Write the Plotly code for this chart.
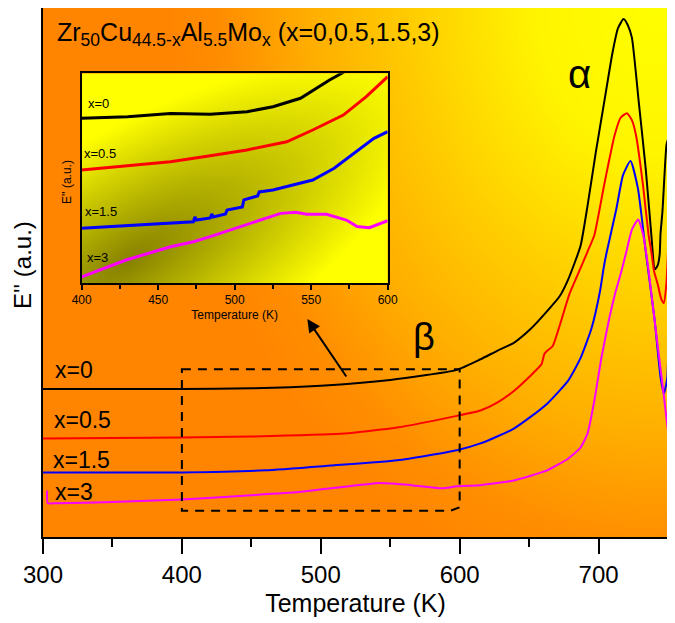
import base64
import struct
import zlib

import numpy as np
import plotly.graph_objects as go

# ---- main panel data (temperature in K, loss modulus in arbitrary units) ----
T_x0 = [300, 350, 400, 450, 500, 550, 598, 615, 627, 639, 651, 663, 672, 678, 687, 692, 698, 704,
        710, 714, 718, 721, 724, 729, 734, 738, 740.5, 742.5, 744, 744.6, 746, 748.9, 750]
E_x0 = [28.0, 28.0, 28.0, 28.1, 28.6, 29.7, 31.6, 33.6, 35.2, 36.7, 39.3, 42.7, 45.5, 48.6, 55.0, 62.5, 72.7, 82.1,
        91.5, 96.2, 97.9, 96.8, 94.4, 82.1, 69.5, 57.1, 50.6, 51.3, 53.4, 57.3, 61.5, 74.1, 75.2]

T_x05 = [300, 400, 450, 514, 555, 598, 615, 627, 639, 651, 656, 659, 661, 663, 667, 673, 679, 685,
         692, 697, 704, 711.5, 716, 720.5, 724, 727, 732, 736, 738, 740, 742.7, 745, 747, 748.8, 750]
E_x05 = [18.6, 18.8, 19.0, 19.5, 20.7, 22.9, 23.9, 25.4, 27.6, 30.5, 31.8, 32.7, 34.6, 35.2, 36.1, 40.8, 45.9, 49.6,
         53.9, 57.1, 66.5, 75.9, 79.3, 80.1, 78.8, 75.9, 66.5, 57.1, 53.9, 50.2, 47.7, 45.1, 44.2, 47.7, 53.9]

T_x15 = [300, 400, 460, 507, 555, 598, 615, 627, 639, 651, 663, 678, 687, 695, 701, 703.5, 705.5,
         712.8, 717.6, 723, 728.4, 734, 740.2, 744.7, 747.1, 749.5, 750]
E_x15 = [12.2, 12.2, 12.6, 13.5, 14.5, 16.4, 17.7, 19.0, 20.5, 22.7, 25.2, 29.5, 33.8, 39.5, 46.4, 50.6, 53.4,
         62.0, 68.4, 71.1, 65.8, 53.9, 41.4, 30.1, 27.1, 30.1, 33.3]

T_x3 = [303, 303.4, 310, 350, 400, 450, 484, 507, 543, 565, 579, 588, 598, 615, 639, 663, 678, 687,
        692, 697, 702, 708, 712, 716, 720, 724, 728.5, 732, 735, 737, 740, 746, 750]
E_x3 = [8.8, 6.4, 6.4, 6.6, 7.1, 7.9, 8.5, 9.2, 10.2, 9.8, 9.4, 9.2, 9.6, 9.8, 10.7, 12.6, 14.8, 16.9,
        19.5, 25.8, 33.8, 41.7, 46.1, 49.8, 53.9, 58.1, 60.0, 57.3, 52.4, 48.3, 41.7, 28.9, 20.1]

# ---- inset data (400-600 K zoom) ----
Ti_x0 = [400, 430, 458, 484, 508, 525, 543, 555, 562, 570, 576]
Ei_x0 = [78.6, 79.3, 80.9, 80.5, 81.7, 84.1, 88.1, 93.6, 96.8, 100.0, 103.0]

Ti_x05 = [400, 429, 458, 483, 508, 534, 551, 571, 586, 600]
Ei_x05 = [54.0, 55.9, 57.9, 60.6, 63.5, 67.4, 73.0, 80.1, 88.9, 98.4]

Ti_x15 = [400, 438, 464, 473, 474, 475, 484, 485, 486, 494, 495, 505, 506, 515, 516, 525, 538, 551,
          565, 578, 591, 600]
Ei_x15 = [26.2, 27.8, 28.6, 29.3, 31.6, 30.1, 31.1, 33.0, 31.6, 33.0, 34.9, 36.3, 39.7, 41.6, 43.5, 44.4, 46.8, 49.2,
          54.8, 61.9, 69.0, 72.2]

Ti_x3 = [400, 429, 458, 473, 484, 497, 517, 530, 540, 547, 560, 573, 580, 588, 600]
Ei_x3 = [3.1, 11.1, 17.4, 19.8, 22.2, 25.4, 30.1, 33.3, 33.8, 32.9, 32.9, 30.1, 27.0, 26.5, 29.8]

labels = ["x=0", "x=0.5", "x=1.5", "x=3"]
colors = ["#000000", "#ff0000", "#0000ff", "#ff00ff"]

FONT = "Arial, Liberation Sans, sans-serif"
# the page puts the figure 8px in from the window corner, so size it to end at the window edge
OFF = 8
W, H = 675 - OFF, 623 - OFF
ML, MR, MT, MB = 35, 7, 0, 86
PW, PH = W - ML - MR, H - MT - MB


def px(x):   # window pixel -> paper x
    return (x - OFF - ML) / PW


def py(y):   # window pixel -> paper y
    return (H - MB - (y - OFF)) / PH


def png_uri(rgb):
    # tiny png writer so the gradient backgrounds can be layout images
    h, w, _ = rgb.shape
    raw = b"".join(b"\x00" + rgb[j].tobytes() for j in range(h))

    def chunk(tag, data):
        return struct.pack(">I", len(data)) + tag + data + struct.pack(">I", zlib.crc32(tag + data) & 0xffffffff)

    png = b"\x89PNG\r\n\x1a\n" + chunk(b"IHDR", struct.pack(">IIBBBBB", w, h, 8, 2, 0, 0, 0)) \
        + chunk(b"IDAT", zlib.compress(raw, 9)) + chunk(b"IEND", b"")
    return "data:image/png;base64," + base64.b64encode(png).decode()


# main background: orange with a yellow glow from the top right corner
gw, gh = 250, 213
u, v = np.meshgrid(np.linspace(0, 1, gw), np.linspace(0, 1, gh))
d = np.sqrt(((660 - (43 + u * 625)) / 500) ** 2 + ((5 + v * 532) / 620) ** 2)
g = np.interp(d, [0, 0.25, 0.48, 0.7, 0.88, 1.0], [255, 245, 208, 175, 142, 132])
main_bg = np.stack([np.full_like(g, 255), g, np.zeros_like(g)], axis=-1).astype(np.uint8)

# inset background: yellow darkening to olive in the lower left
iw, ih = 160, 110
u, v = np.meshgrid(np.linspace(0, 1, iw), np.linspace(1, 0, ih))
p = ((u - 0.15) + (v - 0.1)) / np.sqrt(2)
q = ((u - 0.15) - (v - 0.1)) / np.sqrt(2)
dark = np.clip(1 - np.sqrt((p / 1.25) ** 2 + (q / 0.52) ** 2), 0, 1)
rg = np.stack([255 - dark * 120, 255 - dark * 125, np.zeros_like(dark)], axis=-1).astype(np.uint8)

fig = go.Figure()

for T, E, c in zip([T_x0, T_x05, T_x15, T_x3], [E_x0, E_x05, E_x15, E_x3], colors):
    fig.add_trace(go.Scatter(x=T, y=E, mode="lines", line=dict(color=c, width=2, shape="spline", smoothing=0.5),
                             showlegend=False, xaxis="x", yaxis="y"))

for T, E, c in zip([Ti_x0, Ti_x05, Ti_x15, Ti_x3], [Ei_x0, Ei_x05, Ei_x15, Ei_x3], colors):
    fig.add_trace(go.Scatter(x=T, y=E, mode="lines", line=dict(color=c, width=3),
                             showlegend=False, xaxis="x2", yaxis="y2"))

ins_x0, ins_x1 = 81.7, 387.7
ins_top, ins_bot = 73.3, 283.3

fig.update_layout(
    width=W, height=H,
    margin=dict(l=ML, r=MR, t=MT, b=MB, autoexpand=False),
    paper_bgcolor="white", plot_bgcolor="rgba(0,0,0,0)",
    font=dict(family=FONT, color="black"),
    xaxis=dict(range=[300, 750], tick0=300, dtick=100, ticks="outside", ticklen=15, tickwidth=2,
               tickcolor="black", showline=True, linewidth=2, linecolor="black", mirror=True,
               showgrid=False, zeroline=False, tickfont=dict(size=24),
               minor=dict(ticks="outside", ticklen=8, tickwidth=2, dtick=50, tick0=300, tickcolor="black"),
               title=dict(text="Temperature (K)", font=dict(size=25), standoff=8)),
    yaxis=dict(range=[0, 100], showticklabels=False, ticks="", showline=True, linewidth=2,
               linecolor="black", mirror=True, showgrid=False, zeroline=False),
    xaxis2=dict(domain=[px(ins_x0), px(ins_x1)], anchor="y2", range=[400, 600], tick0=400, dtick=50,
                ticks="outside", ticklen=5, tickwidth=1.5, tickcolor="black", showline=True, linewidth=1.5,
                linecolor="black", mirror=True, showgrid=False, zeroline=False, tickfont=dict(size=12),
                minor=dict(ticks="outside", ticklen=4, tickwidth=1.5, dtick=25, tick0=400, tickcolor="black"),
                title=dict(text="Temperature (K)", font=dict(size=12), standoff=4)),
    yaxis2=dict(domain=[py(ins_bot), py(ins_top)], anchor="x2", range=[0, 100], showticklabels=False,
                ticks="", showline=True, linewidth=1.5, linecolor="black", mirror=True,
                showgrid=False, zeroline=False),
    images=[
        dict(source=png_uri(main_bg), xref="x", yref="y", x=300, y=100, sizex=450, sizey=100,
             xanchor="left", yanchor="top", sizing="stretch", layer="below"),
        dict(source=png_uri(rg), xref="x2", yref="y2", x=400, y=100, sizex=200, sizey=100,
             xanchor="left", yanchor="top", sizing="stretch", layer="below"),
    ],
)

# dashed box marking the beta region shown in the inset
fig.add_shape(type="path", xref="x", yref="y",
              path="M 400,31.7 L 600,31.7 L 600,5.6 L 593,4.94 L 400,4.94 Z",
              line=dict(color="black", width=2, dash="9px,7px"))

ann = []
ann.append(dict(text="Zr<sub>50</sub>Cu<sub>44.5-x</sub>Al<sub>5.5</sub>Mo<sub>x</sub> (x=0,0.5,1.5,3)",
                x=px(55), y=py(34), xanchor="left", yanchor="middle", font=dict(size=25)))
ann.append(dict(text="α", x=px(579), y=py(74), xanchor="center", yanchor="middle", font=dict(size=40)))
ann.append(dict(text="β", x=px(424), y=py(337), xanchor="center", yanchor="middle", font=dict(size=38)))
for t, (lx, ly) in zip(labels, [(53, 370), (52, 420), (51, 460), (53, 492)]):
    ann.append(dict(text=t, x=px(lx), y=py(ly), xanchor="left", yanchor="middle", font=dict(size=23)))
for t, (lx, ly) in zip(labels, [(86, 103), (82, 154), (83, 211), (85, 257)]):
    ann.append(dict(text=t, x=px(lx), y=py(ly), xanchor="left", yanchor="middle", font=dict(size=13)))
ann.append(dict(text="E'' (a.u.)", x=px(22), y=py(265), textangle=-90, xanchor="center", yanchor="middle",
                font=dict(size=24)))
ann.append(dict(text="E'' (a.u.)", x=px(67), y=py(182), textangle=-90, xanchor="center", yanchor="middle",
                font=dict(size=12)))
for a in ann:
    a.update(xref="paper", yref="paper", showarrow=False)

# arrow from the dashed box up to the inset
ann.append(dict(text="", x=490.3, y=41.2, xref="x", yref="y", ax=40, ay=59, showarrow=True,
                arrowhead=2, arrowsize=1.3, arrowwidth=2, arrowcolor="black"))

fig.update_layout(annotations=ann)

fig.write_html("out.html")
